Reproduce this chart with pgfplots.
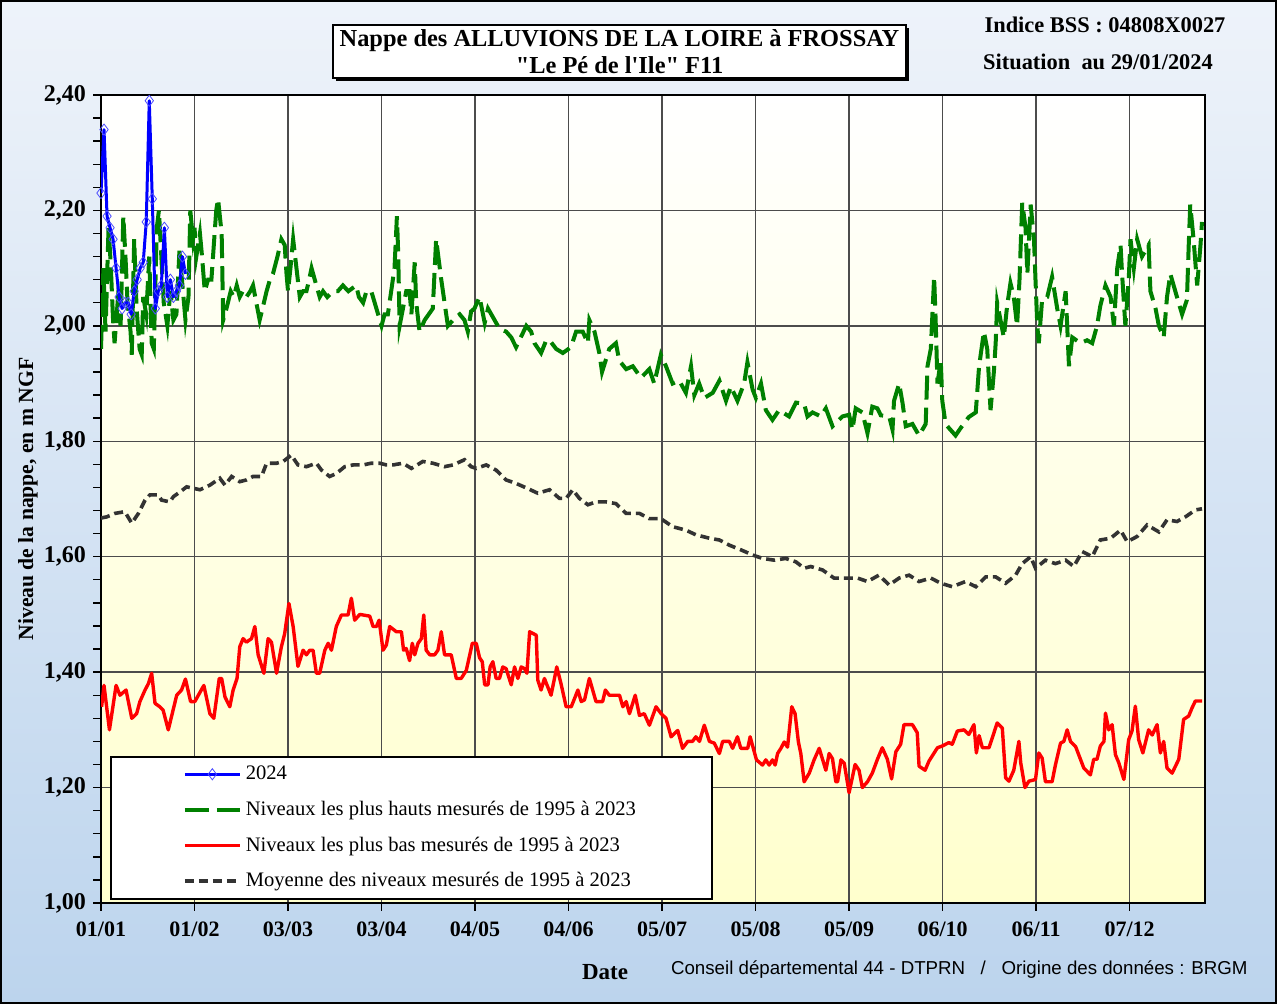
\documentclass[border=0pt]{standalone}
\usepackage{fontspec}
\setmainfont{Liberation Serif}[Ligatures=TeXOff]
\newfontfamily\arialfont{Liberation Sans}
\usepackage{pgfplots}
\pgfplotsset{compat=1.18}
\usetikzlibrary{shadows}
\definecolor{pagetop}{RGB}{238,243,250}
\definecolor{pagebot}{RGB}{188,212,237}
\definecolor{plotbot}{RGB}{255,255,205}
\definecolor{gverte}{RGB}{0,128,0}
\definecolor{gmoy}{RGB}{51,51,51}
\begin{document}
\begin{tikzpicture}
\fill[top color=pagetop, bottom color=pagebot] (0pt,0pt) rectangle (638.5pt,502pt);
\draw[black, line width=1pt] (0.5pt,0.5pt) rectangle (638pt,501.5pt);
\begin{axis}[
  at={(50.5pt,50.5pt)}, anchor=south west,
  scale only axis, width=552pt, height=404pt,
  xmin=0, xmax=366, ymin=1, ymax=2.4,
  axis background/.style={top color=white, bottom color=plotbot},
  xtick={0,31,62,93,124,155,186,217,248,279,310,341},
  xticklabels={01/01,01/02,03/03,03/04,04/05,04/06,05/07,05/08,05/09,06/10,06/11,07/12},
  ytick={1.0,1.2,1.4,1.6,1.8,2.0,2.2,2.4},
  minor y tick num=4,
  tick align=outside, tick pos=left,
  major tick length=4pt, minor tick length=4pt,
  every tick/.style={black, line width=0.7pt},
  grid=major,
  major grid style={black!70, line width=0.7pt},
  axis line style={black, line width=1.2pt},
  /pgf/number format/.cd, fixed, fixed zerofill, precision=2, use comma, assume math mode=true,
  /pgfplots/.cd,
  ticklabel style={font=\fontsize{11}{13}\selectfont\bfseries},
  yticklabel style={font=\fontsize{12}{14}\selectfont\bfseries},
  xticklabel style={yshift=-2pt},
  legend style={at={(0.008,0.004)}, anchor=south west, draw=black, line width=1pt, fill=white,
    font=\fontsize{10.3}{12}\selectfont, inner xsep=36pt, inner ysep=2.5pt, row sep=5.2pt},
  legend cell align=left,
  legend image code/.code={\draw[mark repeat=2,mark phase=2,#1] plot coordinates {(0pt,0pt)(13.75pt,0pt)(27.5pt,0pt)};},
]
\addlegendimage{blue, line width=1.5pt, mark=diamond, mark size=2.8pt, mark options={solid, draw=blue!70, line width=0.4pt}}
\addlegendentry{2024}
\addlegendimage{gverte, line width=2pt, dash pattern=on 12pt off 4pt}
\addlegendentry{Niveaux les plus hauts mesurés de 1995 à 2023}
\addlegendimage{red, line width=1.7pt}
\addlegendentry{Niveaux les plus bas mesurés de 1995 à 2023}
\addlegendimage{gmoy, line width=1.8pt, dash pattern=on 4.5pt off 2.5pt}
\addlegendentry{Moyenne des niveaux mesurés de 1995 à 2023}

% plus hauts
\addplot[forget plot, gverte, line width=2pt, dash pattern=on 12pt off 4pt] coordinates {
(0,1.96)(0.8,2.10)(1.5,1.99)(2.5,2.17)(3.2,2.11)(4.0,2.01)(4.5,1.97)(5.5,2.04)(6.5,2.00)(7.4,2.19)(8.2,2.11)(8.8,2.04)(9.8,1.99)(10.2,1.95)(11.0,2.15)(11.8,2.03)(12.8,1.96)(13.5,1.95)(14.0,2.05)(15.0,2.02)(16.0,2.12)(16.8,1.97)(17.5,1.96)(18.5,2.17)(19.2,2.20)(20.0,2.12)(20.8,2.04)(22.0,2.00)(23.0,2.06)(24.0,2.01)(25.0,2.02)(26.0,2.13)(27.0,2.07)(28.0,2.01)(29.0,2.05)(29.6,2.20)(30.5,2.15)(31.0,2.17)(31.6,2.12)(32.8,2.16)(33.5,2.12)(34.4,2.06)(35.5,2.08)(36.6,2.08)(38.2,2.20)(38.8,2.22)(40.0,2.16)(40.5,2.01)(41.6,2.03)(43.0,2.06)(44.0,2.05)(45.0,2.07)(46.0,2.05)(47.0,2.06)(48.2,2.05)(49.5,2.06)(50.4,2.07)(51.5,2.04)(52.6,2.01)(54.0,2.04)(54.9,2.06)(56.0,2.08)(57.0,2.09)(58.5,2.12)(59.8,2.15)(60.9,2.14)(61.5,2.09)(62.0,2.06)(62.8,2.10)(63.7,2.15)(64.8,2.10)(65.9,2.05)(67.0,2.06)(68.1,2.06)(69.0,2.08)(69.8,2.10)(71.4,2.07)(72.5,2.05)(73.6,2.06)(75.0,2.05)(76.9,2.06)(78.5,2.06)(80.2,2.07)(82.0,2.06)(84.6,2.07)(85.5,2.05)(86.9,2.04)(88.0,2.06)(89.6,2.06)(91.3,2.03)(93.0,2.00)(94.0,2.02)(95.1,2.02)(96.2,2.06)(97.3,2.10)(98.1,2.19)(98.5,2.13)(99.0,2.00)(100.1,2.03)(101.2,2.06)(102.3,2.06)(102.9,2.02)(104.0,2.11)(104.5,2.04)(105.6,1.99)(107.3,2.01)(110.0,2.03)(111.1,2.15)(112.8,2.08)(113.9,2.04)(115.0,2.00)(116.7,2.01)(118.9,2.02)(120.5,2.01)(121.6,1.99)(122.7,2.025)(123.8,2.03)(125.5,2.05)(127.2,2.005)(128.3,2.03)(132.1,1.995)(134.3,1.99)(136.0,1.98)(137.6,1.963)(141.0,2.00)(142.6,1.99)(143.7,1.97)(145.9,1.953)(147.6,1.975)(148.7,1.975)(150.9,1.96)(153.1,1.953)(155.8,1.963)(157.5,1.99)(159.7,1.99)(161.4,1.97)(161.9,2.01)(163.6,1.99)(165.2,1.953)(166.1,1.92)(168.5,1.96)(170.7,1.97)(171.8,1.94)(174.1,1.925)(176.3,1.93)(179.0,1.91)(181.8,1.925)(183.4,1.90)(185.6,1.95)(187.3,1.93)(189.5,1.90)(191.7,1.905)(193.9,1.884)(195.6,1.93)(196.7,1.88)(198.3,1.90)(200.0,1.875)(202.8,1.884)(205.0,1.905)(207.2,1.87)(208.8,1.895)(211.0,1.87)(213.2,1.90)(214.3,1.937)(216.0,1.89)(217.1,1.875)(218.8,1.90)(220.4,1.854)(222.6,1.837)(224.8,1.854)(228.1,1.843)(230.4,1.867)(233.1,1.865)(234.2,1.843)(235.9,1.85)(238.6,1.843)(240.3,1.857)(242.5,1.826)(245.8,1.843)(248.0,1.846)(249.1,1.82)(250.2,1.857)(252.4,1.85)(254.1,1.814)(255.7,1.86)(257.4,1.857)(258.5,1.845)(261.3,1.843)(262.4,1.82)(262.9,1.87)(264.6,1.90)(265.7,1.867)(266.8,1.826)(269.0,1.83)(271.2,1.81)(273.4,1.83)(274.0,1.93)(275.1,1.96)(276.2,2.085)(276.7,2.01)(277.3,1.90)(278.4,1.94)(278.9,1.87)(280.0,1.83)(281.1,1.823)(283.3,1.81)(285.0,1.823)(287.7,1.842)(290.0,1.85)(291.1,1.93)(292.7,1.99)(293.8,1.96)(294.9,1.854)(296.0,1.92)(296.6,1.97)(297.1,2.04)(298.2,2.01)(299.3,1.98)(300.4,2.035)(301.5,2.074)(302.6,2.05)(303.7,2.00)(304.5,2.08)(304.9,2.14)(305.4,2.213)(306.5,2.17)(307.1,2.09)(308.2,2.21)(309.3,2.15)(309.8,2.08)(310.4,2.00)(310.9,1.97)(312.0,2.046)(313.7,2.05)(315.3,2.085)(317.0,2.03)(318.1,2.00)(319.8,2.06)(320.9,1.93)(322.0,1.98)(324.7,1.97)(326.9,1.975)(328.6,1.97)(330.2,2.00)(331.3,2.035)(333.0,2.07)(334.7,2.05)(335.8,2.00)(336.9,2.10)(338.0,2.14)(338.5,2.09)(339.6,2.00)(340.7,2.08)(341.3,2.15)(342.4,2.10)(343.5,2.15)(345.1,2.12)(347.3,2.14)(347.9,2.06)(349.6,2.03)(350.7,2.00)(352.3,1.98)(353.4,2.05)(354.5,2.09)(356.7,2.05)(358.4,2.02)(360.0,2.045)(360.6,2.14)(361.1,2.21)(362.2,2.15)(363.4,2.07)(364.5,2.14)(365.0,2.18)
};
% plus bas
\addplot[forget plot, red, line width=1.7pt, line join=round] coordinates {
(0.2,1.34)(1.0,1.377)(2.8,1.30)(5.0,1.377)(6.3,1.36)(8.3,1.369)(10.2,1.32)(11.8,1.328)(12.9,1.349)(14.6,1.369)(15.7,1.38)(16.8,1.398)(17.9,1.346)(19.5,1.34)(20.6,1.334)(22.3,1.30)(25.1,1.36)(26.7,1.369)(28.0,1.388)(29.7,1.349)(31.1,1.349)(34.1,1.377)(36.1,1.328)(37.4,1.32)(39.2,1.389)(40.0,1.389)(41.1,1.357)(42.7,1.34)(43.8,1.369)(45.1,1.389)(46.0,1.444)(47.1,1.458)(48.2,1.452)(49.9,1.458)(51.0,1.479)(52.1,1.43)(54.0,1.398)(55.4,1.458)(56.5,1.452)(58.2,1.398)(59.8,1.444)(60.9,1.467)(62.3,1.519)(63.7,1.479)(65.3,1.41)(67.0,1.438)(68.1,1.43)(69.2,1.438)(70.3,1.438)(71.4,1.398)(72.5,1.398)(74.2,1.438)(75.3,1.45)(76.4,1.438)(78.0,1.479)(79.7,1.499)(81.9,1.499)(83.0,1.528)(84.1,1.49)(85.8,1.50)(89.1,1.497)(90.2,1.479)(91.3,1.479)(92.2,1.49)(93.5,1.438)(94.6,1.447)(95.7,1.479)(97.9,1.47)(99.6,1.47)(100.3,1.438)(101.2,1.441)(102.3,1.42)(103.2,1.45)(104.0,1.43)(105.1,1.45)(106.2,1.458)(107.0,1.499)(107.8,1.438)(109.0,1.43)(110.6,1.43)(111.7,1.438)(112.8,1.47)(113.9,1.43)(116.1,1.43)(117.8,1.389)(119.4,1.389)(121.1,1.403)(123.1,1.45)(124.4,1.45)(125.5,1.425)(126.4,1.418)(127.2,1.378)(128.3,1.378)(129.0,1.409)(129.9,1.418)(131.0,1.389)(132.1,1.389)(133.2,1.409)(134.3,1.406)(136.0,1.378)(137.1,1.409)(138.2,1.389)(139.3,1.409)(140.4,1.406)(141.2,1.398)(142.1,1.47)(144.3,1.464)(144.8,1.386)(145.9,1.369)(147.0,1.389)(149.2,1.36)(151.1,1.409)(152.5,1.38)(154.2,1.34)(155.9,1.34)(158.1,1.369)(159.2,1.349)(160.3,1.352)(161.9,1.389)(164.1,1.349)(166.3,1.349)(167.2,1.369)(168.5,1.36)(171.9,1.36)(173.0,1.34)(174.1,1.349)(175.2,1.328)(177.1,1.36)(178.5,1.325)(180.1,1.328)(181.8,1.308)(184.0,1.34)(185.7,1.328)(187.3,1.32)(189.0,1.288)(191.2,1.299)(192.8,1.268)(194.5,1.28)(196.1,1.28)(197.2,1.288)(198.4,1.28)(200.0,1.308)(201.7,1.28)(203.3,1.277)(205.0,1.259)(206.1,1.28)(208.3,1.28)(209.4,1.268)(211.0,1.288)(212.1,1.268)(214.4,1.268)(215.2,1.288)(217.3,1.248)(219.3,1.239)(220.4,1.248)(221.5,1.239)(222.6,1.248)(223.5,1.239)(224.3,1.259)(225.4,1.268)(226.5,1.279)(227.6,1.27)(229.0,1.34)(230.1,1.328)(231.2,1.279)(232.0,1.259)(233.1,1.21)(234.8,1.225)(236.4,1.248)(238.1,1.268)(240.3,1.23)(241.4,1.259)(242.5,1.25)(243.6,1.21)(244.2,1.21)(245.3,1.248)(246.4,1.242)(248.0,1.191)(250.0,1.24)(251.3,1.23)(252.4,1.20)(254.1,1.21)(255.7,1.225)(257.4,1.249)(259.0,1.269)(260.7,1.249)(262.1,1.215)(263.5,1.262)(265.1,1.275)(266.2,1.309)(269.0,1.309)(270.6,1.295)(271.2,1.237)(273.2,1.23)(274.5,1.246)(277.3,1.269)(278.9,1.272)(281.1,1.278)(282.2,1.275)(283.9,1.298)(286.1,1.30)(287.7,1.292)(289.4,1.309)(290.2,1.26)(291.1,1.29)(292.2,1.269)(294.4,1.269)(297.1,1.312)(298.8,1.303)(299.9,1.217)(301.0,1.211)(302.6,1.23)(304.3,1.28)(304.9,1.243)(306.3,1.20)(307.6,1.211)(309.8,1.214)(310.9,1.26)(312.0,1.251)(313.1,1.21)(315.3,1.21)(316.4,1.239)(318.1,1.277)(319.2,1.28)(320.3,1.30)(321.4,1.28)(323.1,1.271)(325.8,1.234)(328.0,1.222)(329.1,1.249)(330.2,1.249)(331.3,1.272)(332.5,1.28)(333.0,1.329)(334.1,1.30)(335.2,1.309)(336.3,1.257)(337.4,1.243)(339.1,1.214)(340.7,1.283)(341.8,1.298)(342.9,1.341)(344.0,1.283)(345.4,1.26)(347.3,1.30)(348.5,1.291)(350.1,1.309)(351.2,1.26)(352.3,1.28)(353.4,1.234)(355.1,1.225)(357.3,1.249)(358.9,1.318)(360.6,1.324)(361.7,1.338)(362.8,1.35)(365.0,1.35)
};
% moyenne
\addplot[forget plot, gmoy, line width=1.8pt, dash pattern=on 4.5pt off 2.5pt] coordinates {
(0,1.667)(1.9,1.669)(4.6,1.675)(7.9,1.678)(10.2,1.658)(12.4,1.675)(14.6,1.698)(16.2,1.707)(19.0,1.707)(20.1,1.698)(22.8,1.695)(24.0,1.704)(25.6,1.710)(28.4,1.721)(31.1,1.718)(32.8,1.716)(36.1,1.724)(39.4,1.736)(41.1,1.724)(43.3,1.739)(46.0,1.730)(48.2,1.733)(50.4,1.739)(53.2,1.739)(54.9,1.762)(58.2,1.762)(60.4,1.765)(63.1,1.776)(65.3,1.759)(68.1,1.756)(71.4,1.762)(73.1,1.750)(75.8,1.739)(78.0,1.744)(80.8,1.756)(83.6,1.759)(86.9,1.759)(89.6,1.762)(92.4,1.762)(94.6,1.759)(96.8,1.759)(100.1,1.762)(102.9,1.753)(106.7,1.765)(110.0,1.762)(113.9,1.756)(116.7,1.759)(120.5,1.768)(122.7,1.756)(124.4,1.753)(127.7,1.759)(131.0,1.750)(134.3,1.733)(137.6,1.727)(141.5,1.718)(144.8,1.710)(148.7,1.716)(152.0,1.701)(154.2,1.701)(156.4,1.716)(158.6,1.701)(161.4,1.690)(164.1,1.695)(167.4,1.695)(170.7,1.692)(174.1,1.675)(178.5,1.675)(181.8,1.666)(185.6,1.666)(189.5,1.652)(193.9,1.646)(197.2,1.638)(201.7,1.632)(205.0,1.629)(208.3,1.620)(212.1,1.612)(216.0,1.603)(219.3,1.597)(223.2,1.594)(227.0,1.597)(230.4,1.591)(233.1,1.580)(235.3,1.583)(239.2,1.577)(243.0,1.563)(246.9,1.563)(250.8,1.563)(254.1,1.557)(257.9,1.568)(261.3,1.551)(264.6,1.563)(267.9,1.568)(271.2,1.557)(275.1,1.563)(278.4,1.554)(282.2,1.548)(286.6,1.557)(290.0,1.548)(293.3,1.565)(296.6,1.565)(299.9,1.554)(303.2,1.568)(305.4,1.588)(308.2,1.600)(309.8,1.580)(313.1,1.594)(316.4,1.588)(319.8,1.594)(322.5,1.583)(325.3,1.609)(328.6,1.600)(331.3,1.629)(334.7,1.632)(338.0,1.646)(340.2,1.626)(343.5,1.635)(346.8,1.655)(350.7,1.643)(353.4,1.664)(356.7,1.661)(359.5,1.669)(362.8,1.681)(365,1.683)
};
% 2024
\addplot[forget plot, blue, line width=1.5pt, line join=round, mark=diamond, mark size=2.8pt, mark options={solid, draw=blue!70, line width=0.4pt}] coordinates {
(0,2.23)(1,2.34)(2,2.19)(3,2.17)(4,2.15)(5,2.10)(6,2.05)(7,2.03)(8,2.04)(9,2.04)(10,2.02)(11,2.06)(12,2.08)(13,2.10)(14,2.11)(15,2.18)(16,2.39)(17,2.22)(18,2.03)(19,2.06)(20,2.07)(21,2.17)(22,2.05)(23,2.08)(24,2.05)(25,2.06)(26,2.07)(27,2.12)(28,2.09)
};
\end{axis}
\node[draw=black, line width=0.8pt, fill=white, minimum width=286.5pt, minimum height=26.5pt, inner sep=0pt,
  drop shadow={shadow xshift=1.5pt, shadow yshift=-1.5pt, opacity=1, fill=black},
  align=center, font=\fontsize{12.2}{13.2}\selectfont\bfseries] at (309.75pt,476.25pt)
  {Nappe des ALLUVIONS DE LA LOIRE à FROSSAY\\"Le Pé de l'Ile" F11};
\node[font=\fontsize{11.2}{13}\selectfont\bfseries] at (552.5pt,489.5pt) {Indice BSS : 04808X0027};
\node[font=\fontsize{11.2}{13}\selectfont\bfseries] at (549pt,471pt) {Situation\ \ au 29/01/2024};
\node[rotate=90, font=\fontsize{10.8}{12}\selectfont\bfseries] at (14pt,252.5pt) {Niveau de la nappe, en m NGF};
\node[font=\fontsize{11.5}{13}\selectfont\bfseries] at (302.5pt,16pt) {Date};
\node[anchor=west, font=\arialfont\fontsize{9.35}{11}\selectfont] at (332pt,17pt) {Conseil départemental 44 - DTPRN\ \ \ /\ \ \ Origine des données : BRGM};
\pgfresetboundingbox
\path[use as bounding box] (0pt,0pt) rectangle (638.5pt,502pt);
\end{tikzpicture}
\end{document}
